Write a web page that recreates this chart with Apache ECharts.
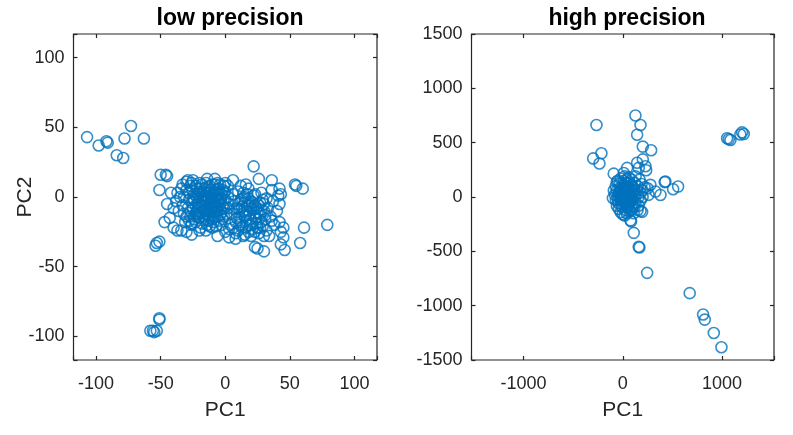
<!DOCTYPE html>
<html>
<head>
<meta charset="utf-8">
<script src="https://cdn.jsdelivr.net/npm/echarts@6/dist/echarts.min.js"></script>
<style>
  html, body { margin: 0; padding: 0; background: #fff; }
  #main { width: 793px; height: 435px; }
</style>
</head>
<body>
<div id="main"></div>
<script>
// PC scores, [PC1, PC2]
const lowOutliers = [
  [-107, 43], [-98, 37], [-92, 40], [-91, 39], [-73, 51], [-78, 42], [-63, 42],
  [-84, 30], [-79, 28], [-50, 16], [-46, 16], [-45, 15], [-51, 5],
  [-54, -35], [-53, -33], [-51, -32], [-51, -87], [-51, -88],
  [-58, -96], [-55, -97], [-53, -96], [-56, -96],
  [79, -20], [61, -22], [58, -33], [54, 9], [60, 6], [55, 8]
];
const lowSpread = [
  [22, 22], [26, 13], [36, 12], [42, 6], [43, 2], [41, 1], [42, -5], [28, 3],
  [6, 12], [16, 9], [-14, 13], [-30, 11],
  [-37, -24], [-34, -24], [-26, -27], [-6, -28], [3, -29], [3, -23], [15, -27],
  [23, -36], [25, -37], [30, -39], [30, -28], [34, -28], [43, -25], [45, -29],
  [43, -34], [46, -38], [36, -17], [-15, -24], [-26, -19],
  [-45, -5], [-43, -15], [-42, 3], [-47, -18], [-40, -22], [-30, -25], [-20, -24],
  [-10, -22], [0, -25], [8, -30], [-8, 13], [0, 10], [40, -10], [42, -18], [36, 5], [45, -22]
];
const lowCoreA = [
  [-30, 5], [-28, -2], [-27, 8], [-25, -8], [-24, 2], [-23, -12], [-22, 6], [-21, -4],
  [-20, 10], [-20, -15], [-19, 0], [-18, -7], [-17, 4], [-16, -10], [-15, 1], [-15, -3],
  [-14, 7], [-13, -13], [-12, -5], [-12, 3], [-11, -8], [-10, 9], [-10, -1], [-9, -11],
  [-8, 4], [-8, -6], [-7, 0], [-6, -14], [-5, 6], [-5, -3], [-4, -9], [-3, 2],
  [-2, -16], [-2, -6], [-1, 8], [0, -2], [1, -12], [-33, -6], [-32, -12], [-35, 0],
  [-31, -18], [-26, -20], [-18, -19], [-29, 12], [-22, -10], [-16, -16], [-14, -20],
  [-9, -18], [-6, 10], [-3, -20], [-24, -16], [-27, -14], [-20, -6], [-17, -2],
  [-13, -9], [-11, 0], [-7, -10], [-19, 6], [-21, 2], [-25, 4], [-15, -12], [-10, -16],
  [-4, -13], [-1, 3], [-36, -10], [-38, -3], [-34, 6], [-40, -8],
  [-29, -8], [-28, 3], [-26, -4], [-26, 10], [-24, -2], [-23, 8], [-22, -14], [-21, -8],
  [-20, 4], [-19, -11], [-18, 9], [-18, -3], [-17, -14], [-16, 6], [-16, -6], [-15, 10],
  [-14, -8], [-14, 0], [-13, 4], [-13, -17], [-12, 8], [-12, -11], [-11, -3], [-11, 5],
  [-10, -7], [-10, -13], [-9, 1], [-9, -4], [-8, 9], [-8, -14], [-7, -7], [-7, 5],
  [-6, -2], [-6, -10], [-5, 2], [-5, -17], [-4, -5], [-4, 9], [-3, -11], [-3, -1],
  [-2, 5], [-1, -8], [-1, -14], [0, 4], [-32, 0], [-30, -14], [-33, 9], [-37, 3],
  [-28, -17], [-23, -18], [-19, -22], [-12, -21], [-7, -21], [2, -8], [2, 0], [-25, 12],
  [-27, -10], [-25, -1], [-23, -6], [-22, 0], [-21, -12], [-19, 3], [-17, -9], [-16, 1],
  [-14, -4], [-13, -1], [-12, -15], [-11, -10], [-9, -8], [-8, -1], [-6, -6], [-4, -1]
];
const lowCoreB = [
  [3, -5], [5, -12], [6, 2], [8, -18], [9, -8], [10, 4], [11, -14], [12, -2],
  [13, -22], [14, -10], [15, 0], [16, -17], [17, -6], [18, -25], [19, -12], [20, -3],
  [21, -19], [22, -9], [23, 2], [24, -15], [25, -22], [26, -6], [27, -12], [28, -18],
  [29, -2], [30, -10], [31, -16], [32, -24], [12, 8], [18, 6], [8, -26], [4, -20],
  [2, 8], [20, -28], [26, -26], [14, -28], [7, -3], [11, -9], [16, -13], [21, -4],
  [24, -8], [19, -20], [33, -8], [35, -14], [37, -3], [38, -20], [6, -22], [10, -24],
  [9, -15], [10, -5], [12, -18], [13, -7], [14, 3], [15, -14], [16, -22], [17, -10],
  [18, -1], [19, -16], [20, -8], [21, -23], [22, -14], [22, 1], [23, -6], [24, -19],
  [25, -11], [26, -16], [27, -4], [28, -9], [29, -21], [30, -5], [31, -13], [32, -1],
  [15, -4], [17, 2], [19, -6], [11, -20], [13, -1], [7, -9], [23, -25], [27, -22]
];
const highOutliers = [
  [-265, 663], [128, 750], [179, 663], [145, 573], [202, 464], [286, 430],
  [-298, 355], [-215, 402], [-235, 308], [-91, 215], [202, 346], [145, 315],
  [161, 268], [229, 283], [236, 246], [44, 268], [10, 221],
  [279, 112], [430, 143], [423, 137], [558, 96], [508, 72], [380, 19], [330, 50],
  [1069, 533], [1086, 525], [1052, 540], [1203, 595], [1220, 580], [1186, 575],
  [179, -128], [195, -137], [78, -215], [84, -224], [111, -330], [161, -458],
  [168, -465], [246, -698], [675, -885], [810, -1081], [827, -1128], [918, -1252], [995, -1383]
];
const highCore = [
  [0, 0], [10, 20], [20, 40], [30, 10], [40, -10], [50, 30], [60, 0], [70, 50],
  [-10, 30], [-20, 10], [-30, -10], [-40, 40], [-20, 60], [0, 80], [20, 100], [40, 120],
  [60, 90], [80, 70], [100, 40], [120, 20], [140, 60], [100, -20], [80, -40], [60, -60],
  [40, -80], [20, -60], [0, -40], [-20, -30], [-40, -60], [-50, 10], [-60, 60], [-30, 120],
  [10, 150], [30, -120], [50, -100], [100, -90], [130, -50], [160, 0], [150, 100], [120, 130],
  [90, 160], [-10, -90], [70, -130], [150, -120], [110, -150], [25, 25], [35, 45], [45, 15],
  [55, -20], [15, -15], [5, 55], [65, 25], [75, -5], [85, 15], [-5, 15], [30, 70],
  [50, 60], [200, 60], [220, 90], [180, 40], [250, 80], [260, 20],
  [-80, 20], [-70, -30], [-60, -80], [-70, 100], [-50, 150], [-90, 60], [-100, -10],
  [-40, -110], [-20, -140], [0, -160], [20, -170], [40, -150], [90, -110], [120, -90],
  [160, -80], [180, -30], [200, 0], [190, 120], [170, 160], [130, 190], [60, 180],
  [20, 190], [-20, 170], [-60, 140], [-30, 30], [-10, -10], [10, -20], [30, -30],
  [50, -40], [70, -20], [90, 0], [110, 60], [90, 110], [70, 130], [-30, 80], [-50, -30],
  [5, 110], [25, 130], [45, 160], [100, 90], [130, 10], [60, -100], [-15, -60], [35, -50]
];

const lowData = lowOutliers.concat(lowSpread, lowCoreA, lowCoreB);
const highData = highOutliers.concat(highCore);

const lowXTicks = [-100, -50, 0, 50, 100];
const lowYTicks = [-100, -50, 0, 50, 100];
const highXTicks = [-1000, 0, 1000];
const highYTicks = [-1500, -1000, -500, 0, 500, 1000, 1500];

const axisColor = '#262626';
const font = 'Liberation Sans, Arial, Helvetica, sans-serif';

function tickFmt(list) {
  return function (v) { return list.indexOf(v) >= 0 ? String(v) : ''; };
}

function makeAxis(grid, pos, min, max, split, ticks, name, labels) {
  const isX = pos === 'bottom' || pos === 'top';
  return {
    type: 'value',
    gridIndex: grid,
    position: pos,
    min: min,
    max: max,
    splitNumber: split,
    name: name || '',
    nameLocation: 'middle',
    nameGap: isX ? 40 : 38,
    nameMoveOverlap: false,
    nameTextStyle: { fontFamily: font, fontSize: 21, color: axisColor },
    axisLine: { show: false, onZero: false },
    axisTick: { show: true, inside: true, length: 4, lineStyle: { color: axisColor, width: 1.2 } },
    splitLine: { show: false },
    axisLabel: {
      show: labels,
      formatter: tickFmt(ticks),
      fontFamily: font,
      fontSize: 18,
      color: axisColor,
      margin: isX ? 15 : 9
    }
  };
}

const marker = {
  color: 'transparent',
  borderColor: '#0072BD',
  borderWidth: 1.6
};

const option = {
  animation: false,
  backgroundColor: '#fff',
  title: [
    { text: 'low precision', left: 225, top: 2, textAlign: 'center',
      textStyle: { fontFamily: font, fontSize: 23, fontWeight: 'bold', color: '#000' } },
    { text: 'high precision', left: 622, top: 2, textAlign: 'center',
      textStyle: { fontFamily: font, fontSize: 23, fontWeight: 'bold', color: '#000' } }
  ],
  grid: [
    { left: 73.5, top: 34, width: 303.5, height: 326, show: true,
      borderColor: axisColor, borderWidth: 1.2, backgroundColor: '#fff' },
    { left: 471.5, top: 34, width: 302.5, height: 326, show: true,
      borderColor: axisColor, borderWidth: 1.2, backgroundColor: '#fff' }
  ],
  xAxis: [
    makeAxis(0, 'bottom', -117.5, 117.5, 5, lowXTicks, 'PC1', true),
    makeAxis(0, 'top', -117.5, 117.5, 5, lowXTicks, '', false),
    makeAxis(1, 'bottom', -1525, 1525, 3, highXTicks, 'PC1', true),
    makeAxis(1, 'top', -1525, 1525, 3, highXTicks, '', false)
  ],
  yAxis: [
    makeAxis(0, 'left', -117, 117, 5, lowYTicks, 'PC2', true),
    makeAxis(0, 'right', -117, 117, 5, lowYTicks, '', false),
    makeAxis(1, 'left', -1500, 1500, 6, highYTicks, '', true),
    makeAxis(1, 'right', -1500, 1500, 6, highYTicks, '', false)
  ],
  series: [
    {
      type: 'scatter', xAxisIndex: 0, yAxisIndex: 0,
      symbol: 'circle', symbolSize: 11,
      itemStyle: marker,
      data: lowData
    },
    {
      type: 'scatter', xAxisIndex: 2, yAxisIndex: 2,
      symbol: 'circle', symbolSize: 11,
      itemStyle: marker,
      data: highData
    }
  ]
};

const chart = echarts.init(document.getElementById('main'), null, { renderer: 'canvas' });
chart.setOption(option);
</script>
</body>
</html>
